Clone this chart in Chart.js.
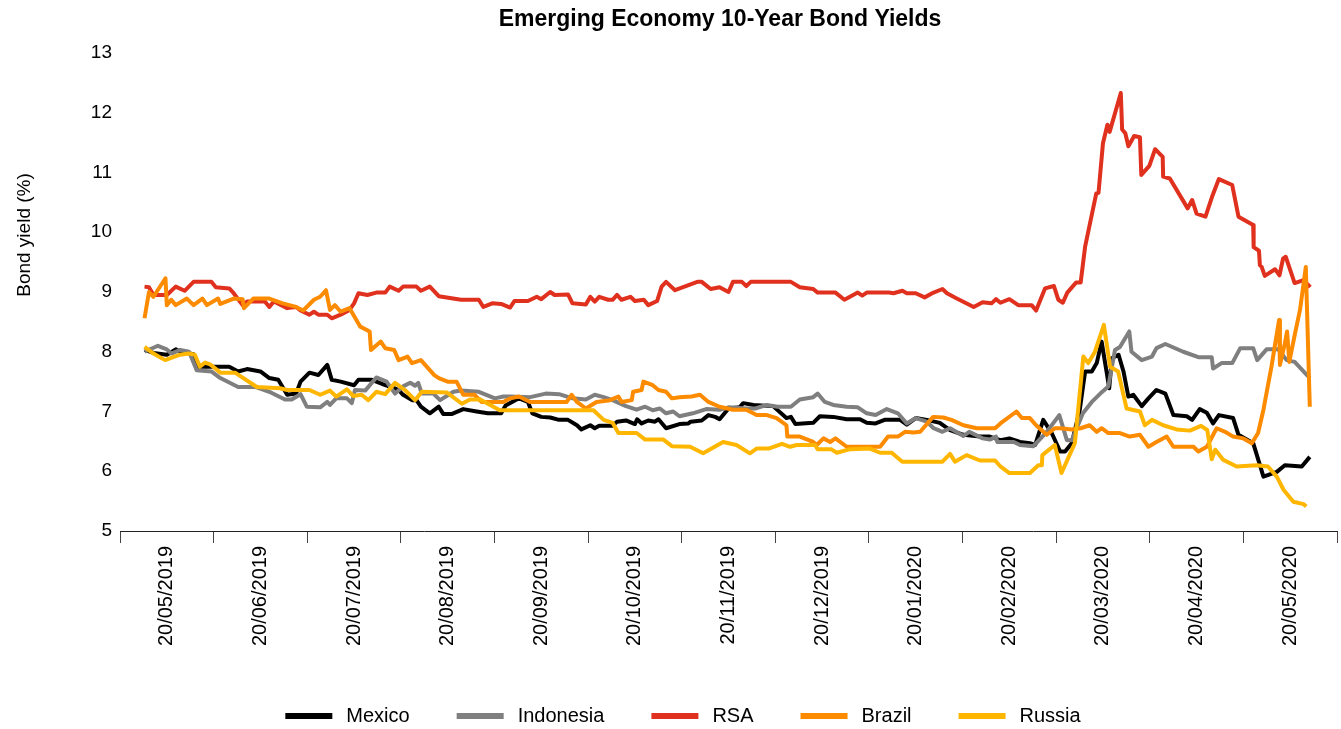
<!DOCTYPE html>
<html>
<head>
  <title>Emerging Economy 10-Year Bond Yields</title>
  <script src="https://cdn.jsdelivr.net/npm/chart.js"></script>
  <style>
    body { margin: 0; background: #fff; }
  </style>
</head>
<body>
  <canvas id="yieldChart" width="1341" height="729"></canvas>

  <script>
    // [trading day, 10-year yield %], day 0 = first observation (mid May 2019)
    const mexico = [[0,8.03],[2,7.98],[5,7.95],[7,8.04],[8,8.0],[11,7.96],[12,7.75],[15,7.75],[19,7.75],[21,7.67],[23,7.71],[26,7.67],[28,7.56],[30,7.53],[32,7.28],[34,7.30],[35,7.50],[37,7.65],[39,7.61],[41,7.78],[42,7.53],[44,7.50],[47,7.44],[48,7.53],[51,7.53],[54,7.44],[56,7.39],[57,7.36],[58,7.28],[60,7.19],[61,7.19],[62,7.08],[64,6.97],[66,7.08],[67,6.96],[69,6.96],[71.5,7.04],[74.5,7.0],[77,6.97],[80,6.97],[81,7.10],[84,7.22],[86,7.16],[87,6.97],[89,6.91],[91,6.90],[93,6.86],[95,6.86],[97,6.77],[98,6.70],[100,6.77],[101,6.72],[102,6.76],[105,6.76],[106,6.83],[108,6.85],[110,6.79],[110.5,6.87],[111.5,6.80],[113,6.85],[114.5,6.83],[115.3,6.87],[117,6.72],[120,6.79],[122,6.80],[122.5,6.83],[125,6.85],[126.5,6.94],[128,6.91],[129,6.87],[131,7.05],[133.5,7.07],[134.3,7.14],[136.6,7.11],[141,7.09],[144,6.89],[145,6.91],[146,6.79],[150,6.81],[151.5,6.92],[154.5,6.91],[157.5,6.87],[160.5,6.87],[162,6.81],[164,6.80],[166,6.86],[169.5,6.86],[171,6.78],[173,6.89],[175.5,6.86],[178.4,6.81],[180.7,6.69],[183.7,6.61],[187.4,6.58],[189.6,6.58],[192,6.52],[194,6.55],[196.4,6.49],[198.6,6.47],[199.8,6.44],[201.6,6.86],[203.5,6.64],[205.4,6.33],[206.5,6.33],[208,6.47],[209.8,7.03],[211,7.67],[212.5,7.67],[213.6,7.81],[214.7,8.17],[215.8,7.67],[216.4,7.39],[217,7.89],[218.5,7.95],[219.6,7.67],[220.7,7.25],[221.8,7.28],[223.7,7.09],[225.2,7.22],[227,7.36],[229,7.30],[230.8,6.94],[233.8,6.92],[235,6.86],[236.7,7.04],[238.3,6.98],[239.7,6.80],[241,6.94],[244.2,6.89],[245.4,6.61],[248.7,6.47],[251,5.91],[254,5.99],[255.8,6.10],[259.6,6.08],[261.4,6.24]];

    const indonesia = [[0,8.0],[3,8.10],[5,8.04],[6,7.97],[8,8.03],[10,8.0],[11.7,7.69],[15,7.67],[17,7.56],[21,7.41],[25,7.41],[28,7.33],[31.5,7.20],[33,7.20],[35,7.29],[36.4,7.08],[39.4,7.07],[41,7.16],[41.6,7.11],[43,7.22],[45.4,7.22],[46.5,7.14],[47.2,7.36],[49.5,7.35],[52,7.57],[54.3,7.50],[56.2,7.30],[58,7.42],[59.6,7.48],[60.7,7.43],[61.4,7.48],[62.2,7.30],[64.8,7.30],[66.3,7.19],[69.3,7.33],[71,7.35],[75,7.33],[78.6,7.22],[80.5,7.25],[82,7.25],[86.5,7.24],[90,7.30],[93,7.29],[96,7.22],[99,7.20],[101,7.28],[103,7.24],[105,7.19],[108,7.09],[110.4,7.03],[112.3,7.08],[114,7.02],[115.6,7.05],[117,6.97],[118.6,7.0],[120,6.92],[123,6.97],[126,7.04],[129,7.03],[131,7.07],[135,7.05],[137,7.05],[139.6,7.11],[142,7.08],[145,7.08],[147,7.20],[150,7.24],[151,7.30],[152.6,7.16],[154.5,7.11],[157.5,7.08],[160,7.07],[162,6.97],[164,6.94],[166.5,7.04],[169,6.97],[171,6.80],[173,6.89],[175.5,6.83],[177,6.72],[179,6.66],[180.7,6.72],[183.7,6.59],[185,6.66],[188,6.55],[189.6,6.53],[191,6.58],[191.3,6.49],[195,6.49],[196.4,6.44],[199.4,6.42],[202.4,6.66],[205.2,6.94],[206.9,6.52],[208,6.52],[210.5,6.97],[212.5,7.16],[214.4,7.30],[216.2,7.42],[217.7,8.03],[218.8,8.08],[220.9,8.34],[221.4,8.0],[223.7,7.86],[226,7.92],[227,8.06],[229,8.13],[233,8.0],[236.4,7.91],[239.4,7.91],[239.7,7.72],[241.6,7.81],[244,7.81],[245.8,8.06],[248.7,8.06],[249.6,7.86],[251.7,8.04],[254.3,8.04],[256.2,7.86],[258,7.83],[261.4,7.56]];

    const rsa = [[0,9.09],[1,9.08],[2,8.95],[5,8.95],[7,9.09],[9,9.02],[11,9.17],[15,9.17],[16,9.08],[19,9.06],[20,8.98],[22,8.78],[23,8.84],[27,8.84],[28,8.75],[29,8.84],[32,8.73],[34,8.75],[35,8.69],[37,8.62],[38,8.67],[39,8.62],[41,8.62],[42,8.56],[44,8.62],[46,8.70],[47,8.81],[48,8.98],[50,8.95],[52,8.99],[54,8.99],[55,9.09],[57,9.02],[58,9.09],[61,9.09],[62,9.02],[64,9.09],[66,8.93],[71,8.87],[75,8.87],[76,8.75],[78,8.81],[80,8.80],[82,8.74],[83,8.85],[86,8.85],[88,8.92],[89,8.88],[91,9.0],[92,8.95],[95,8.96],[96,8.81],[99,8.79],[100,8.92],[101,8.84],[102,8.92],[104,8.87],[105,8.87],[106,8.95],[107,8.87],[109,8.92],[110,8.85],[112,8.87],[113,8.78],[115,8.85],[116,9.09],[117,9.17],[119,9.03],[124,9.17],[125,9.17],[127,9.05],[129,9.08],[131,9.0],[132,9.17],[134,9.17],[135,9.10],[136,9.17],[145,9.17],[147,9.08],[150,9.05],[151,8.99],[155,8.99],[157,8.87],[160,8.99],[161,8.94],[162,8.99],[167,8.99],[168,8.98],[170,9.02],[171,8.98],[173,8.98],[175,8.91],[177,8.99],[179,9.05],[180,8.98],[182,8.90],[186,8.75],[188,8.83],[190,8.81],[191,8.88],[192,8.82],[194,8.88],[196,8.78],[199,8.78],[200,8.69],[202,9.06],[204,9.10],[205,8.87],[206,8.82],[207,8.99],[209,9.16],[210,9.16],[211,9.76],[213.5,10.65],[214,10.66],[215,11.49],[216,11.80],[216.5,11.68],[219,12.33],[219.3,11.72],[220,11.66],[220.7,11.44],[222,11.61],[223.3,11.59],[223.6,10.96],[225.4,11.11],[226.7,11.39],[228.4,11.26],[228.5,10.93],[230,10.90],[234,10.40],[235,10.54],[236,10.31],[238,10.26],[239.6,10.62],[241,10.89],[244,10.79],[245.4,10.26],[248.7,10.12],[248.8,9.75],[250,9.69],[250.2,9.45],[250.6,9.42],[251.3,9.27],[253.6,9.38],[254.6,9.28],[255.4,9.56],[256,9.59],[258,9.15],[260,9.20],[261.5,9.08]];

    const brazil = [[0,8.56],[1,9.0],[2,8.92],[4.7,9.23],[5,8.78],[6,8.87],[7,8.78],[9.5,8.89],[11,8.78],[13,8.89],[14,8.78],[16.5,8.89],[17,8.80],[20,8.89],[22,8.88],[22.3,8.73],[24.4,8.89],[28,8.89],[31,8.81],[34,8.75],[35.6,8.69],[38,8.87],[39.4,8.92],[40.7,9.03],[41.6,8.70],[42.7,8.78],[44,8.67],[46,8.73],[48.4,8.42],[50.5,8.34],[50.8,8.03],[53,8.17],[54,8.06],[56,8.03],[57,7.86],[59,7.92],[60,7.81],[62,7.86],[65,7.61],[66,7.56],[68,7.50],[70,7.50],[71.5,7.28],[74,7.28],[75.6,7.16],[80.5,7.16],[82,7.22],[84,7.25],[86.5,7.16],[94.7,7.16],[95.8,7.28],[97,7.16],[99,7.05],[101.4,7.16],[104.4,7.19],[106.3,7.25],[107,7.16],[109.3,7.19],[109.6,7.33],[111.5,7.36],[111.9,7.50],[114,7.44],[115.3,7.36],[117,7.33],[118.3,7.22],[120,7.24],[122.7,7.25],[124.6,7.28],[126.5,7.16],[129,7.08],[132,7.03],[135,7.03],[137.3,6.94],[139.6,6.94],[141.8,6.89],[144,6.77],[144.2,6.58],[147,6.58],[150,6.49],[150.8,6.44],[152.3,6.55],[153.8,6.49],[155,6.55],[157.5,6.41],[165,6.41],[166.8,6.58],[169,6.58],[170.6,6.66],[172.5,6.65],[174,6.66],[176.9,6.91],[179.2,6.90],[181,6.86],[183.7,6.77],[186.7,6.72],[190.8,6.72],[192,6.80],[195.6,7.0],[196.8,6.89],[198.6,6.89],[200,6.77],[202.4,6.61],[204.2,6.72],[205.4,6.72],[208,6.70],[210,6.72],[212,6.77],[213.6,6.66],[214.7,6.72],[216.2,6.64],[218.8,6.64],[221,6.58],[223.3,6.61],[225.2,6.41],[227,6.49],[229.3,6.58],[230.8,6.41],[235.3,6.41],[236.4,6.33],[238.3,6.41],[240.5,6.72],[242.4,6.66],[244.2,6.58],[246.5,6.55],[248.4,6.47],[249.8,6.64],[251,7.03],[252.8,7.75],[254.5,8.53],[254.7,7.78],[255.8,8.14],[256.3,8.34],[256.8,7.83],[258.1,8.31],[259.2,8.70],[260.5,9.42],[261.4,7.08]];

    const russia = [[0,8.08],[2,7.97],[4.6,7.86],[8,7.95],[10,7.97],[11.3,7.95],[12.4,7.75],[13.6,7.82],[14.7,7.79],[17,7.65],[20.3,7.65],[25.2,7.41],[30.4,7.39],[32,7.36],[37,7.36],[39.4,7.28],[41.6,7.35],[43,7.25],[45.4,7.37],[46.8,7.26],[48.7,7.28],[50.2,7.19],[52,7.33],[54,7.29],[56.2,7.48],[58.4,7.36],[60.7,7.19],[62.2,7.33],[67.8,7.32],[71.2,7.13],[73,7.20],[75.3,7.20],[79.7,7.02],[100.7,7.02],[103,6.86],[105,6.81],[106.3,6.64],[110.4,6.64],[112.3,6.53],[116.4,6.53],[118.3,6.42],[122.4,6.41],[125.3,6.30],[129.8,6.49],[132.8,6.44],[135.8,6.30],[137.3,6.38],[140,6.38],[143,6.46],[144.8,6.41],[146.3,6.44],[150.4,6.44],[151,6.37],[154,6.37],[155.3,6.31],[158.3,6.37],[162.7,6.38],[165,6.31],[167.6,6.31],[170,6.16],[179,6.16],[180.7,6.29],[181.8,6.16],[184.4,6.27],[187.4,6.18],[190.8,6.18],[192,6.08],[194,5.97],[198.6,5.97],[200.5,6.10],[201.3,6.10],[201.4,6.27],[204.2,6.44],[205.7,5.97],[208.7,6.47],[210.6,7.92],[211.7,7.81],[213.2,8.0],[215.2,8.45],[216.6,7.75],[218.4,7.67],[220.3,7.05],[223.3,7.0],[224.4,6.77],[226,6.86],[228.5,6.77],[231.5,6.70],[234.5,6.68],[237,6.76],[238.4,6.69],[239.4,6.20],[240.2,6.36],[242,6.19],[245,6.08],[249.5,6.10],[252,6.08],[254,5.91],[255.5,5.69],[257.7,5.49],[260,5.45],[260.6,5.41]];

    const tickLabels = ['20/05/2019', '20/06/2019', '20/07/2019', '20/08/2019', '20/09/2019', '20/10/2019',
      '20/11/2019', '20/12/2019', '20/01/2020', '20/02/2020', '20/03/2020', '20/04/2020', '20/05/2020'];
    const seriesNames = ['Mexico', 'Indonesia', 'RSA', 'Brazil', 'Russia'];
    const seriesData = [mexico, indonesia, rsa, brazil, russia];

    const colors = ['#000000', '#7f7f7f', '#e0301e', '#fd8b00', '#ffb600'];
    const FONT = '"Liberation Sans", Arial, Helvetica, sans-serif';

    // each month label covers a band of 21 trading days
    const BAND = 21;
    const X_MIN = -5.5;
    const X_MAX = X_MIN + BAND * tickLabels.length;
    const bandEdges = tickLabels.map((_, i) => X_MIN + BAND * i).concat([X_MAX]);
    const bandMids = tickLabels.map((_, i) => X_MIN + BAND * i + BAND / 2);

    // title, rotated y title and legend drawn straight onto the canvas
    const decorations = {
      id: 'decorations',
      afterDraw(chart) {
        const ctx = chart.ctx;
        ctx.save();
        ctx.fillStyle = '#000';
        ctx.textBaseline = 'middle';

        ctx.font = 'bold 23px ' + FONT;
        ctx.textAlign = 'center';
        ctx.fillText('Emerging Economy 10-Year Bond Yields', 720, 20);

        ctx.save();
        ctx.font = '19px ' + FONT;
        ctx.translate(25, 235);
        ctx.rotate(-Math.PI / 2);
        ctx.fillText('Bond yield (%)', 0, 0);
        ctx.restore();

        // legend row
        ctx.font = '20px ' + FONT;
        ctx.textAlign = 'left';
        const lineW = 47, gapText = 14, gapItem = 47;
        const items = chart.data.datasets.map(ds => ({
          label: ds.label, color: ds.borderColor, w: ctx.measureText(ds.label).width
        }));
        let total = items.reduce((s, it) => s + lineW + gapText + it.w, 0) + gapItem * (items.length - 1);
        let x = 683 - total / 2;
        const y = 716;
        items.forEach(it => {
          ctx.fillStyle = it.color;
          ctx.fillRect(x, y - 3, lineW, 6);
          ctx.fillStyle = '#000';
          ctx.fillText(it.label, x + lineW + gapText, y);
          x += lineW + gapText + it.w + gapItem;
        });
        ctx.restore();
      }
    };

    const ctx = document.getElementById('yieldChart').getContext('2d');
    new Chart(ctx, {
      type: 'line',
      data: {
        datasets: seriesNames.map((name, i) => ({
          label: name,
          data: seriesData[i],
          borderColor: colors[i],
          backgroundColor: colors[i],
          borderWidth: 4,
          borderJoinStyle: 'round',
          pointRadius: 0,
          tension: 0,
          order: seriesNames.length - i
        }))
      },
      options: {
        responsive: false,
        animation: false,
        layout: { padding: { top: 53, right: 4, left: 0, bottom: 0 } },
        plugins: {
          legend: { display: false },
          title: { display: false },
          tooltip: { enabled: false }
        },
        scales: {
          x: {
            type: 'linear',
            min: X_MIN,
            max: X_MAX,
            afterBuildTicks: scale => { scale.ticks = bandEdges.map(v => ({ value: v })); },
            afterFit: scale => { scale.height = 12; },
            ticks: { display: false },
            grid: { drawOnChartArea: false, drawTicks: true, tickLength: 12, color: '#444', lineWidth: 1 },
            border: { display: true, color: '#222', width: 1 }
          },
          months: {
            type: 'linear',
            position: 'bottom',
            weight: 1,
            min: X_MIN,
            max: X_MAX,
            afterBuildTicks: scale => { scale.ticks = bandMids.map(v => ({ value: v })); },
            afterFit: scale => { scale.height = 729 - 531 - 12; },
            ticks: {
              autoSkip: false,
              maxRotation: 90,
              minRotation: 90,
              padding: 3,
              color: '#000',
              font: { family: FONT, size: 20 },
              callback: (value, index) => tickLabels[index]
            },
            grid: { display: false, drawTicks: false },
            border: { display: false }
          },
          y: {
            min: 5,
            max: 13,
            afterFit: scale => { scale.width = 120; },
            ticks: { stepSize: 1, padding: 8, color: '#000', font: { family: FONT, size: 19 } },
            grid: { display: false, drawTicks: false },
            border: { display: false }
          }
        }
      },
      plugins: [decorations]
    });
  </script>
</body>
</html>
